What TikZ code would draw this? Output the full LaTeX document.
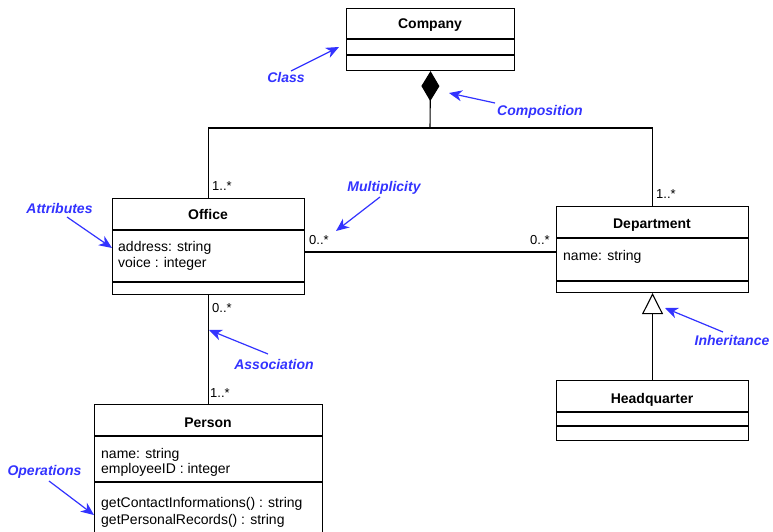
\documentclass[tikz,border=0pt]{standalone}
\usepackage{fontspec}
\setmainfont{Liberation Sans}
\usetikzlibrary{arrows.meta,shapes.geometric}
\definecolor{annot}{RGB}{51,51,255}
\begin{document}
\begin{tikzpicture}[x=1pt,y=-1pt,
  classbox/.style={draw, line width=1.1pt, inner sep=0pt, anchor=north west},
  title/.style={font=\fontsize{14}{17}\selectfont\bfseries, anchor=base, inner sep=0pt},
  attr/.style={font=\fontsize{14}{17}\selectfont, anchor=base west, inner sep=0pt},
  mult/.style={font=\fontsize{13}{15}\selectfont, anchor=base west, inner sep=0pt},
  note/.style={font=\fontsize{14}{17}\selectfont\bfseries\itshape, text=annot, anchor=base, inner sep=0pt},
  notearrow/.style={draw=annot, line width=1.2pt, -{Stealth[length=13pt,width=11pt,inset=4pt]}},
  link/.style={line width=1.1pt}]
\clip (0,0) rectangle (773,532);
\fill[white] (0,0) rectangle (773,532);

% Company
\node[classbox, minimum width=168pt, minimum height=62pt] (company) at (346,8) {};
\node[title] (companyname) at (430,29) {Company};
\draw[link] (company.west |- 0,39) -- (company.east |- 0,39);
\draw[link] (company.west |- 0,55) -- (company.east |- 0,55);

% Office
\node[classbox, minimum width=192pt, minimum height=96pt] (office) at (112,198) {};
\node[title] (officename) at (208,219) {Office};
\draw[link] (office.west |- 0,230) -- (office.east |- 0,230);
\draw[link] (office.west |- 0,282) -- (office.east |- 0,282);
\node[attr] (officea1) at (118,251) {address: string};
\node[attr] (officea2) at (118,267) {voice : integer};

% Department
\node[classbox, minimum width=192pt, minimum height=86pt] (dept) at (556,206) {};
\node[title] (deptname) at (652,228) {Department};
\draw[link] (dept.west |- 0,238) -- (dept.east |- 0,238);
\draw[link] (dept.west |- 0,281) -- (dept.east |- 0,281);
\node[attr] (depta1) at (563,260) {name: string};

% Headquarter
\node[classbox, minimum width=192pt, minimum height=60pt] (hq) at (556,380) {};
\node[title] (hqname) at (652,403) {Headquarter};
\draw[link] (hq.west |- 0,412) -- (hq.east |- 0,412);
\draw[link] (hq.west |- 0,426) -- (hq.east |- 0,426);

% Person
\node[classbox, minimum width=228pt, minimum height=140pt] (person) at (94,404) {};
\node[title] (personname) at (208,427) {Person};
\draw[link] (person.west |- 0,436) -- (person.east |- 0,436);
\draw[link] (person.west |- 0,482) -- (person.east |- 0,482);
\node[attr] (persona1) at (101,458) {name: string};
\node[attr] (persona2) at (101,473) {employeeID : integer};
\node[attr] (persono1) at (101,507) {getContactInformations() : string};
\node[attr] (persono2) at (101,524) {getPersonalRecords() : string};

% Composition
\coordinate (junction) at (430,128);
\draw[link, -{Diamond[length=30pt,width=18pt,fill=black]}] (junction) -- (company.south);
\draw[link] (office.north) |- (junction) -| (dept.north);

% Inheritance
\draw[link, -{Triangle[open,length=21pt,width=21pt,fill=white]}] (hq.north) -- (dept.south);

% Associations
\draw[link] (office.east |- 0,252) -- (dept.west |- 0,252);
\draw[link] (office.south) -- (person.north);

% Multiplicities
\node[mult] (m1) at (212,190) {1..*};
\node[mult] (m2) at (656,198) {1..*};
\node[mult] (m3) at (309,244) {0..*};
\node[mult] (m4) at (530,244) {0..*};
\node[mult] (m5) at (212,312) {0..*};
\node[mult] (m6) at (210,397) {1..*};

% Annotations
\node[note] (nclass) at (286,83) {Class};
\node[note] (ncomp) at (540,116) {Composition};
\node[note] (nmult) at (384,191) {Multiplicity};
\node[note] (nattr) at (59.5,213) {Attributes};
\node[note] (nassoc) at (274,369) {Association};
\node[note] (ninh) at (732,345) {Inheritance};
\node[note] (nops) at (44.5,475) {Operations};

\coordinate (classs) at (291,71);  \coordinate (classe) at (339,47);
\coordinate (comps) at (495,103);  \coordinate (compe) at (449,93);
\coordinate (mults) at (380,197);  \coordinate (multe) at (336,231);
\coordinate (attrs) at (67,217);   \coordinate (attre) at (112,248);
\coordinate (assocs) at (268,354); \coordinate (assoce) at (209,330);
\coordinate (inhs) at (723,332);   \coordinate (inhe) at (665,308);
\coordinate (opss) at (49,481);    \coordinate (opse) at (94,515);

\draw[notearrow] (classs) -- (classe);
\draw[notearrow] (comps) -- (compe);
\draw[notearrow] (mults) -- (multe);
\draw[notearrow] (attrs) -- (attre);
\draw[notearrow] (assocs) -- (assoce);
\draw[notearrow] (inhs) -- (inhe);
\draw[notearrow] (opss) -- (opse);
\end{tikzpicture}
\end{document}
